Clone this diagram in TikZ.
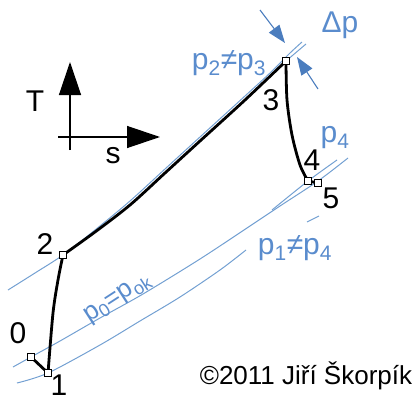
\documentclass[tikz,border=0pt]{standalone}
\usepackage{fontspec}
\setmainfont{Liberation Sans}
\usetikzlibrary{arrows.meta,backgrounds}
\definecolor{isoblue}{RGB}{115,160,210}
\definecolor{labblue}{RGB}{90,140,205}
\definecolor{arrblue}{RGB}{75,125,190}
\begin{document}
\begin{tikzpicture}[x=1pt,y=-1pt,
  ptbox/.style={draw=black, fill=white, line width=0.9pt, minimum size=7pt, inner sep=0pt, rectangle},
  proc/.style={line width=2.8pt, black, line cap=round, line join=round},
  iso/.style={isoblue, line width=1pt},
  num/.style={font=\fontsize{30}{30}\selectfont, inner sep=0pt},
  blab/.style={text=labblue, font=\fontsize{30}{30}\selectfont, inner sep=0pt},
  axisarrow/.style={line width=1.3pt, -{Triangle[length=33pt,width=22pt]}},
  dparrow/.style={arrblue, line width=1.1pt, -{Triangle[length=18pt,width=13pt]}}
]
\useasboundingbox (0,0) rectangle (415,396);
% state points
\node[ptbox] (p0) at (31,357) {};
\node[ptbox] (p1) at (48,373) {};
\node[ptbox] (p2) at (63,255) {};
\node[ptbox] (p3) at (286,61) {};
\node[ptbox] (p4) at (308,181) {};
\node[ptbox] (p5) at (318,183) {};
\begin{scope}[on background layer]
% isobars
\draw[iso] plot[smooth] coordinates {(8,290) (35,273) (p2.center) (95,230) (130,201) (165,169) (200,137) (245,96) (270,73) (290,53) (302,42)};
\draw[iso] (p3.center) -- (306,44);
\draw[iso] plot[smooth] coordinates {(13,367) (p0.center) (60,341) (100,318) (143,294) (200,259) (250,226) (280,206) (318,181) (348,158)};
\draw[iso] plot[smooth] coordinates {(272,210) (p4.center) (337,160)};
\draw[iso] plot[smooth] coordinates {(17,383) (p1.center) (100,345) (140,321) (180,297) (220,270) (246,250)};
\coordinate (t1) at (307,222);
\coordinate (t2) at (319,216);
\draw[iso] (t1) -- (t2);
% process
\draw[proc] (p0.center) -- (p1.center);
\draw[proc] plot[smooth] coordinates {(p1.center) (53,313) (58,280) (p2.center)};
\draw[proc] plot[smooth] coordinates {(p2.center) (95,232) (130,205) (165,173) (200,141) (245,100) (p3.center)};
\draw[proc] plot[smooth] coordinates {(p3.center) (287,100) (292,135) (300,165) (p4.center)};
\draw[proc] (p4.center) -- (p5.center);
\end{scope}
% delta p arrows
\coordinate (d1s) at (260,10);
\coordinate (d1e) at (285,43);
\coordinate (d2s) at (318,89);
\coordinate (d2e) at (297,57);
\draw[dparrow] (d1s) -- (d1e);
\draw[dparrow] (d2s) -- (d2e);
% axes
\coordinate (Tbot) at (70,150);
\coordinate (Ttip) at (70,62);
\coordinate (sleft) at (58,137);
\coordinate (stip) at (160,137);
\draw[axisarrow] (Tbot) -- (Ttip);
\draw[axisarrow] (sleft) -- (stip);
\node[num] (lT) at (35,101) {T};
\node[num] (ls) at (113,156) {s};
% point labels
\node[num] (l0) at (18,333) {0};
\node[num] (l1) at (59,385) {1};
\node[num] (l2) at (45,244) {2};
\node[num] (l3) at (271,100) {3};
\node[num] (l4) at (312,160) {4};
\node[num] (l5) at (331,198) {5};
% pressure labels
\node[blab] (dp) at (340,25) {Δp};
\node[blab] (p23) at (229,63) {p\textsubscript{2}≠p\textsubscript{3}};
\node[blab] (lp4) at (335,138) {p\textsubscript{4}};
\node[blab] (p14) at (295,248) {p\textsubscript{1}≠p\textsubscript{4}};
\node[blab, rotate=33, font=\fontsize{26}{26}\selectfont] (p0ok) at (118,299) {p\textsubscript{0}=p\textsubscript{ok}};
\node[font=\fontsize{26}{26}\selectfont, inner sep=0pt] (copy) at (306,376) {©2011 Jiří Škorpík};
\end{tikzpicture}
\end{document}
